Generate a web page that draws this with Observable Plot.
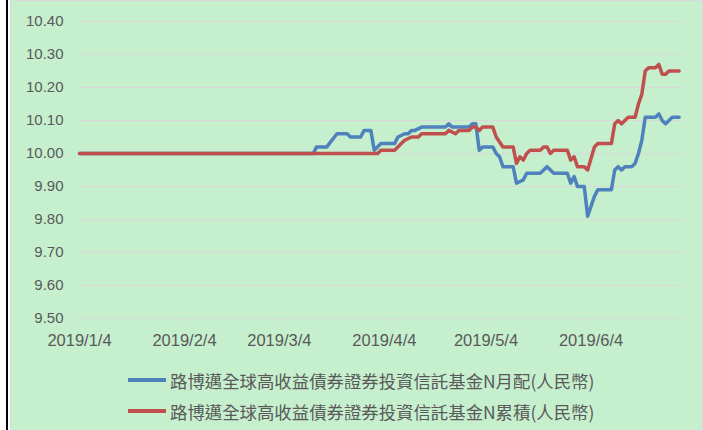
<!DOCTYPE html>
<html>
<head>
<meta charset="utf-8">
<script src="https://cdn.jsdelivr.net/npm/d3@7"></script>
<script src="https://cdn.jsdelivr.net/npm/@observablehq/plot@0.6"></script>
<style>
  html, body { margin: 0; padding: 0; background: #ffffff; }
  #blackbar { position: absolute; left: 6px; top: 0; width: 2px; height: 430px; background: #000; }
  #frame { position: absolute; left: 10px; top: 0; width: 691px; height: 440px; border: 1px solid #d9d9d9; background: #c6efce; overflow: hidden; }
  #chart { position: absolute; left: 0; top: 0; }
  .leg { position: absolute; left: 117px; height: 22px; display: flex; align-items: center; font-family: "Noto Sans CJK TC", "Noto Sans", sans-serif; font-size: 17.4px; color: #595959; white-space: nowrap; }
  .leg .sw { width: 38px; height: 4px; margin-right: 4px; }
</style>
</head>
<body>
<div id="blackbar"></div>
<div id="frame">
  <div id="chart"></div>
  <div class="leg" id="leg0" style="top:368px"><div class="sw"></div><span></span></div>
  <div class="leg" id="leg1" style="top:399px"><div class="sw"></div><span></span></div>
</div>
<script>
// Series names
const seriesNames = [
  "路博邁全球高收益債券證券投資信託基金N月配(人民幣)",
  "路博邁全球高收益債券證券投資信託基金N累積(人民幣)"
];
const seriesColors = ["#4f81bd", "#c0504d"];

// Series 1: N月配 (blue)
const monthlyDates = ["2019-01-04","2019-03-14","2019-03-15","2019-03-18","2019-03-21","2019-03-24","2019-03-25","2019-03-28","2019-03-29","2019-03-31","2019-04-01","2019-04-03","2019-04-07","2019-04-08","2019-04-10","2019-04-11","2019-04-12","2019-04-13","2019-04-15","2019-04-22","2019-04-23","2019-04-24","2019-04-29","2019-04-30","2019-05-01","2019-05-02","2019-05-03","2019-05-06","2019-05-07","2019-05-08","2019-05-09","2019-05-12","2019-05-13","2019-05-15","2019-05-16","2019-05-20","2019-05-21","2019-05-22","2019-05-24","2019-05-28","2019-05-29","2019-05-30","2019-05-31","2019-06-02","2019-06-03","2019-06-05","2019-06-06","2019-06-10","2019-06-11","2019-06-12","2019-06-13","2019-06-14","2019-06-16","2019-06-17","2019-06-18","2019-06-19","2019-06-20","2019-06-23","2019-06-24","2019-06-25","2019-06-26","2019-06-27","2019-06-28","2019-06-30"];
const monthlyValues = [10.00,10.00,10.02,10.02,10.06,10.06,10.05,10.05,10.07,10.07,10.01,10.03,10.03,10.05,10.06,10.06,10.07,10.07,10.08,10.08,10.09,10.08,10.08,10.09,10.09,10.01,10.02,10.02,10.00,9.99,9.96,9.96,9.91,9.92,9.94,9.94,9.95,9.96,9.94,9.94,9.91,9.93,9.90,9.90,9.81,9.87,9.89,9.89,9.95,9.96,9.95,9.96,9.96,9.97,10.00,10.04,10.11,10.11,10.12,10.10,10.09,10.10,10.11,10.11];

// Series 2: N累積 (red)
const accumDates = ["2019-01-04","2019-04-02","2019-04-03","2019-04-07","2019-04-08","2019-04-09","2019-04-10","2019-04-12","2019-04-14","2019-04-15","2019-04-22","2019-04-23","2019-04-25","2019-04-26","2019-04-29","2019-04-30","2019-05-01","2019-05-02","2019-05-03","2019-05-06","2019-05-07","2019-05-09","2019-05-12","2019-05-13","2019-05-14","2019-05-15","2019-05-16","2019-05-17","2019-05-20","2019-05-21","2019-05-22","2019-05-23","2019-05-24","2019-05-28","2019-05-29","2019-05-30","2019-05-31","2019-06-02","2019-06-03","2019-06-05","2019-06-06","2019-06-10","2019-06-11","2019-06-12","2019-06-13","2019-06-14","2019-06-15","2019-06-17","2019-06-18","2019-06-19","2019-06-20","2019-06-21","2019-06-23","2019-06-24","2019-06-25","2019-06-26","2019-06-27","2019-06-30"];
const accumValues = [10.00,10.00,10.01,10.01,10.02,10.03,10.04,10.05,10.05,10.06,10.06,10.07,10.06,10.07,10.07,10.08,10.08,10.07,10.08,10.08,10.05,10.02,10.02,9.97,9.99,9.98,10.00,10.01,10.01,10.02,10.02,10.00,10.01,10.01,9.98,9.99,9.96,9.96,9.95,10.02,10.03,10.03,10.09,10.10,10.09,10.10,10.11,10.11,10.15,10.18,10.25,10.26,10.26,10.27,10.24,10.24,10.25,10.25];

// Axis ticks
const xTickDates = ["2019-01-04","2019-02-04","2019-03-04","2019-04-04","2019-05-04","2019-06-04"];
const xTickLabels = ["2019/1/4","2019/2/4","2019/3/4","2019/4/4","2019/5/4","2019/6/4"];
const xDomain = ["2019-01-04","2019-07-01"];
const yTicks = [9.5,9.6,9.7,9.8,9.9,10.0,10.1,10.2,10.3,10.4];

const toDate = s => new Date(s + "T00:00:00Z");
const monthly = monthlyDates.map((d, i) => ({date: toDate(d), value: monthlyValues[i]}));
const accum = accumDates.map((d, i) => ({date: toDate(d), value: accumValues[i]}));
const xTicks = xTickDates.map(toDate);
const labelMap = new Map(xTicks.map((d, i) => [+d, xTickLabels[i]]));

const chart = Plot.plot({
  width: 690,
  height: 350,
  marginLeft: 68,
  marginRight: 19,
  marginTop: 20,
  marginBottom: 33,
  style: {background: "transparent", fontFamily: "'Liberation Sans', Arial, sans-serif", color: "#595959", overflow: "visible"},
  x: {type: "utc", domain: xDomain.map(toDate)},
  y: {domain: [9.5, 10.4]},
  marks: [
    Plot.gridY(yTicks, {stroke: "#d9d9d9", strokeOpacity: 1, strokeWidth: 1}),
    Plot.axisY({ticks: yTicks, tickSize: 0, tickPadding: 16, tickFormat: d => d.toFixed(2), fontSize: 15, label: null}),
    Plot.axisX({ticks: xTicks, tickFormat: d => labelMap.get(+d), tickSize: 5, tickPadding: 11, stroke: "#d9d9d9", strokeOpacity: 1, fontSize: 16.5, label: null}),
    Plot.line(monthly, {x: "date", y: "value", stroke: seriesColors[0], strokeWidth: 3.5, strokeLinejoin: "round"}),
    Plot.line(accum, {x: "date", y: "value", stroke: seriesColors[1], strokeWidth: 3.5, strokeLinejoin: "round"})
  ]
});
document.getElementById("chart").appendChild(chart);

[0, 1].forEach(i => {
  const el = document.getElementById("leg" + i);
  el.querySelector(".sw").style.background = seriesColors[i];
  el.querySelector("span").textContent = seriesNames[i];
});
</script>
</body>
</html>
